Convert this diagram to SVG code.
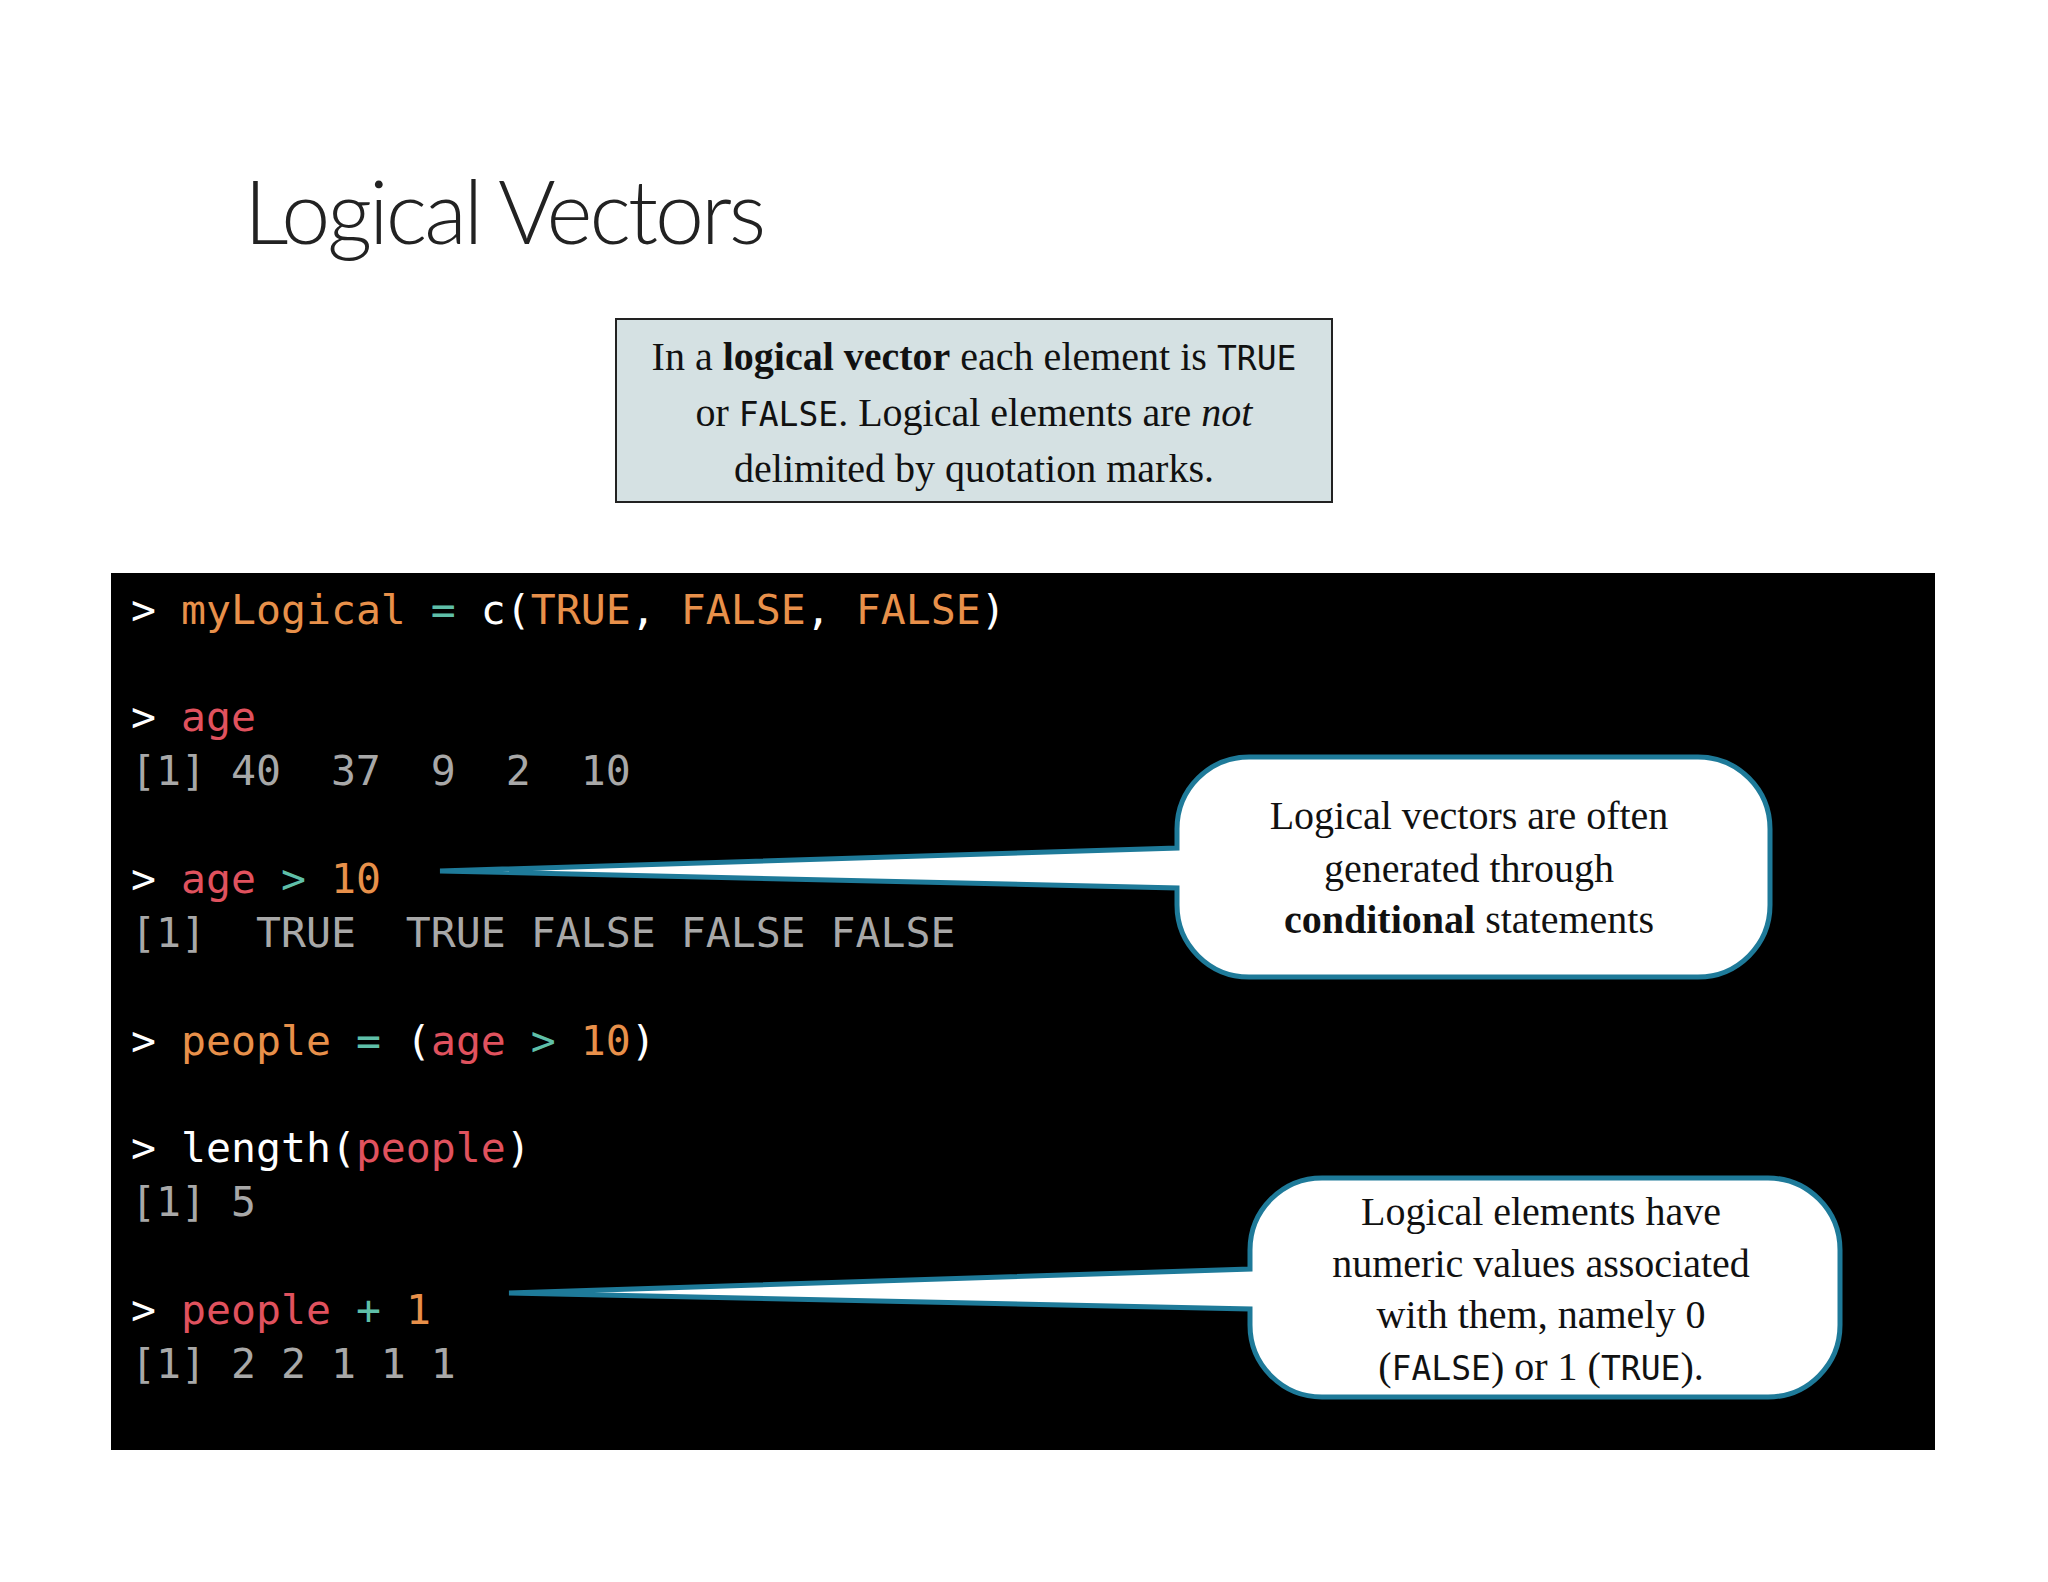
<svg xmlns="http://www.w3.org/2000/svg" width="2048" height="1582" viewBox="0 0 2048 1582">
<style>
.code{font-family:"DejaVu Sans Mono",monospace;font-size:41.5px;fill:#fff}
.o{fill:#e8904a}.r{fill:#e0525e}.t{fill:#5fbfa8}.g{fill:#a8a8a8}
.ser{font-family:"Liberation Serif",serif;font-size:40px;fill:#111;text-anchor:middle}
.m{font-family:"DejaVu Sans Mono",monospace;font-size:33px}
.call{fill:#fff;stroke:#1e7a99;stroke-width:5;stroke-linejoin:miter}
</style>
<rect width="2048" height="1582" fill="#fff"/>
<text id="title" x="244" y="244" font-family="Lato,'Liberation Sans',sans-serif" font-weight="300" font-size="88" fill="#222" letter-spacing="-3">Logical Vectors</text>
<g id="definition">
<rect x="616" y="319" width="716" height="183" fill="#d5e1e3" stroke="#222" stroke-width="2"/>
<text class="ser" x="974" y="370">In a <tspan font-weight="bold">logical vector</tspan> each element is <tspan class="m">TRUE</tspan></text>
<text class="ser" x="974" y="426">or <tspan class="m">FALSE</tspan>. Logical elements are <tspan font-style="italic">not</tspan></text>
<text class="ser" x="974" y="482">delimited by quotation marks.</text>
</g>
<g id="console">
<rect x="111" y="573" width="1824" height="877" fill="#000"/>
<text class="code" x="131" y="624" xml:space="preserve">&gt; <tspan class="o">myLogical</tspan> <tspan class="t">=</tspan> c(<tspan class="o">TRUE</tspan>, <tspan class="o">FALSE</tspan>, <tspan class="o">FALSE</tspan>)</text>
<text class="code" x="131" y="731" xml:space="preserve">&gt; <tspan class="r">age</tspan></text>
<text class="code g" x="131" y="785" xml:space="preserve">[1] 40  37  9  2  10</text>
<text class="code" x="131" y="893" xml:space="preserve">&gt; <tspan class="r">age</tspan> <tspan class="t">&gt;</tspan> <tspan class="o">10</tspan></text>
<text class="code g" x="131" y="947" xml:space="preserve">[1]  TRUE  TRUE FALSE FALSE FALSE</text>
<text class="code" x="131" y="1055" xml:space="preserve">&gt; <tspan class="o">people</tspan> <tspan class="t">=</tspan> (<tspan class="r">age</tspan> <tspan class="t">&gt;</tspan> <tspan class="o">10</tspan>)</text>
<text class="code" x="131" y="1162" xml:space="preserve">&gt; length(<tspan class="r">people</tspan>)</text>
<text class="code g" x="131" y="1216" xml:space="preserve">[1] 5</text>
<text class="code" x="131" y="1324" xml:space="preserve">&gt; <tspan class="r">people</tspan> <tspan class="t">+</tspan> <tspan class="o">1</tspan></text>
<text class="code g" x="131" y="1378" xml:space="preserve">[1] 2 2 1 1 1</text>
</g>
<g id="callout1">
<path class="call" d="M1249 757H1698A72 72 0 0 1 1770 829V905A72 72 0 0 1 1698 977H1249A72 72 0 0 1 1177 905V888L440 871L1177 848V829A72 72 0 0 1 1249 757Z"/>
<text class="ser" x="1469" y="829">Logical vectors are often</text>
<text class="ser" x="1469" y="882">generated through</text>
<text class="ser" x="1469" y="933"><tspan font-weight="bold">conditional</tspan> statements</text>
</g>
<g id="callout2">
<path class="call" d="M1322 1178H1768A72 72 0 0 1 1840 1250V1325A72 72 0 0 1 1768 1397H1322A72 72 0 0 1 1250 1325V1309L509 1293L1250 1269V1250A72 72 0 0 1 1322 1178Z"/>
<text class="ser" x="1541" y="1225">Logical elements have</text>
<text class="ser" x="1541" y="1277">numeric values associated</text>
<text class="ser" x="1541" y="1328">with them, namely 0</text>
<text class="ser" x="1541" y="1380">(<tspan class="m">FALSE</tspan>) or 1 (<tspan class="m">TRUE</tspan>).</text>
</g>
</svg>
